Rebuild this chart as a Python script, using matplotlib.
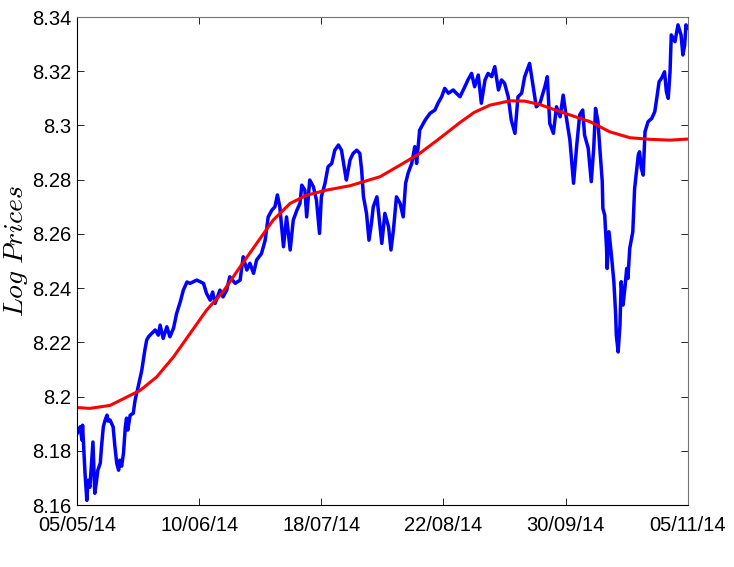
import matplotlib
matplotlib.use('Agg')
import matplotlib.pyplot as plt

# Position along the sample, 0..100 (% of the window), and log prices.
blue_t = [0.0, 0.5, 0.8, 0.9, 1.3, 1.6, 1.8, 2.1, 2.6, 2.7, 2.9, 3.2, 3.4, 3.8, 4.0,
          4.3, 4.6, 4.9, 5.1, 5.4, 5.9, 6.2, 6.5, 6.8, 7.0, 7.3, 7.6, 7.9, 8.1, 8.3,
          8.7, 9.2, 9.5, 10.0, 10.6, 11.1, 11.4, 11.7, 12.2, 12.8, 13.3, 13.6, 14.1,
          14.7, 15.2, 15.8, 16.3, 16.9, 17.4, 18.0, 18.5, 19.6, 20.7, 21.2, 21.8,
          22.2, 22.6, 23.4, 23.9, 24.5, 25.0, 25.9, 26.7, 27.2, 27.8, 28.3, 28.9,
          29.4, 30.2, 30.8, 31.3, 31.9, 32.4, 32.8, 33.2, 33.8, 34.3, 34.9, 35.4,
          36.0, 36.5, 36.8, 37.3, 37.6, 38.1, 38.7, 39.2, 39.7, 40.0, 40.6, 41.1,
          41.7, 42.2, 42.8, 43.3, 43.9, 44.1, 44.7, 45.2, 45.8, 46.3, 46.6, 46.9,
          47.4, 47.8, 48.2, 48.5, 49.1, 49.6, 49.9, 50.4, 51.0, 51.4, 51.8, 52.3,
          52.9, 53.4, 53.8, 54.2, 54.8, 55.3, 55.6, 56.1, 57.0, 57.8, 58.6, 59.1,
          59.7, 60.2, 60.8, 61.6, 62.1, 62.7, 63.5, 64.0, 64.6, 65.1, 65.7, 66.2,
          66.8, 67.3, 67.9, 68.4, 69.0, 69.5, 70.0, 70.6, 71.1, 71.7, 72.2, 72.8,
          73.3, 74.1, 74.7, 75.2, 75.8, 76.6, 77.0, 77.4, 78.0, 78.5, 79.1, 79.6,
          80.1, 80.7, 81.3, 81.8, 82.3, 82.8, 83.1, 83.7, 84.2, 84.6, 84.9, 85.3,
          85.6, 86.0, 86.1, 86.4, 86.7, 86.8, 87.1, 87.5, 87.9, 88.2, 88.3, 88.6,
          88.9, 89.1, 89.4, 89.7, 90.0, 90.2, 90.5, 91.0, 91.3, 91.6, 91.9, 92.1,
          92.4, 92.7, 93.0, 93.5, 94.1, 94.6, 95.0, 95.3, 95.7, 96.2, 96.5, 96.8,
          97.1, 97.3, 97.9, 98.4, 98.9, 99.2, 99.5, 99.7, 100.0]
blue_v = [8.1864, 8.1889, 8.1840, 8.1895, 8.1718, 8.1618, 8.1692, 8.1666, 8.1833,
          8.1766, 8.1644, 8.1692, 8.1729, 8.1755, 8.1815, 8.1889, 8.1914, 8.1932,
          8.1910, 8.1914, 8.1889, 8.1815, 8.1754, 8.1729, 8.1766, 8.1744, 8.1792,
          8.1889, 8.1921, 8.1877, 8.1932, 8.1939, 8.1987, 8.2036, 8.2098, 8.2172,
          8.2209, 8.2221, 8.2233, 8.2246, 8.2227, 8.2264, 8.2215, 8.2258, 8.2221,
          8.2253, 8.2307, 8.2350, 8.2393, 8.2423, 8.2418, 8.2430, 8.2418, 8.2381,
          8.2356, 8.2386, 8.2344, 8.2393, 8.2368, 8.2393, 8.2442, 8.2418, 8.2430,
          8.2516, 8.2467, 8.2492, 8.2455, 8.2504, 8.2528, 8.2577, 8.2663, 8.2688,
          8.2700, 8.2744, 8.2700, 8.2553, 8.2663, 8.2541, 8.2651, 8.2688, 8.2713,
          8.2780, 8.2762, 8.2663, 8.2799, 8.2774, 8.2725, 8.2602, 8.2737, 8.2787,
          8.2848, 8.2860, 8.2909, 8.2928, 8.2909, 8.2824, 8.2799, 8.2873, 8.2897,
          8.2909, 8.2897, 8.2836, 8.2737, 8.2676, 8.2577, 8.2639, 8.2700, 8.2737,
          8.2627, 8.2565, 8.2676, 8.2627, 8.2541, 8.2614, 8.2737, 8.2713, 8.2663,
          8.2787, 8.2824, 8.2860, 8.2922, 8.2860, 8.2983, 8.3020, 8.3045, 8.3057,
          8.3082, 8.3106, 8.3137, 8.3119, 8.3131, 8.3119, 8.3106, 8.3143, 8.3168,
          8.3192, 8.3143, 8.3186, 8.3082, 8.3168, 8.3192, 8.3180, 8.3217, 8.3131,
          8.3168, 8.3156, 8.3106, 8.3020, 8.2971, 8.3106, 8.3119, 8.3180, 8.3229,
          8.3143, 8.3069, 8.3082, 8.3143, 8.3180, 8.3008, 8.2971, 8.3069, 8.3032,
          8.3112, 8.3032, 8.2946, 8.2787, 8.2922, 8.3039, 8.3057, 8.2965, 8.2916,
          8.2793, 8.2916, 8.3063, 8.3014, 8.2916, 8.2793, 8.2694, 8.2670, 8.2547,
          8.2473, 8.2608, 8.2522, 8.2424, 8.2301, 8.2227, 8.2165, 8.2264, 8.2424,
          8.2338, 8.2399, 8.2473, 8.2436, 8.2547, 8.2608, 8.2768, 8.2829, 8.2891,
          8.2903, 8.2842, 8.2817, 8.2977, 8.3014, 8.3026, 8.3051, 8.3112, 8.3161,
          8.3174, 8.3198, 8.3125, 8.3100, 8.3198, 8.3334, 8.3309, 8.3371, 8.3334,
          8.3260, 8.3297, 8.3371, 8.3360]

# Smooth trend (red curve)
red_t = [0.0, 2.1, 5.4, 8.7, 10.3, 13.0, 15.8, 18.5, 21.2, 23.9, 26.7, 29.4, 32.1,
         34.9, 37.6, 40.9, 44.7, 49.6, 52.9, 56.1, 59.4, 62.7, 65.0, 67.6, 70.9,
         73.3, 75.8, 79.1, 84.0, 87.2, 90.5, 93.8, 97.1, 100.0]
red_v = [8.1960, 8.1957, 8.1968, 8.2005, 8.2023, 8.2072, 8.2147, 8.2233, 8.2319,
         8.2387, 8.2479, 8.2565, 8.2651, 8.2713, 8.2743, 8.2762, 8.2778, 8.2811,
         8.2854, 8.2897, 8.2953, 8.3011, 8.3048, 8.3075, 8.3091, 8.3090, 8.3077,
         8.3051, 8.3014, 8.2977, 8.2955, 8.2949, 8.2946, 8.2950]

x_ticks = [0, 20, 40, 60, 80, 100]
x_labels = ['05/05/14', '10/06/14', '18/07/14', '22/08/14', '30/09/14', '05/11/14']
y_ticks = [8.16, 8.18, 8.20, 8.22, 8.24, 8.26, 8.28, 8.30, 8.32, 8.34]
y_labels = ['8.16', '8.18', '8.2', '8.22', '8.24', '8.26', '8.28', '8.3', '8.32', '8.34']

plt.rcParams['font.family'] = ['Liberation Sans', 'DejaVu Sans']
plt.rcParams['mathtext.fontset'] = 'cm'

fig = plt.figure(figsize=(7.34, 5.67), dpi=100)
ax = fig.add_axes([0.105, 0.109, 0.832, 0.861])

ax.plot(blue_t, blue_v, color='#0000ff', linewidth=2.5)
ax.plot(red_t, red_v, color='#ff0000', linewidth=2.2)

ax.set_xlim(0, 100)
ax.set_ylim(8.16, 8.34)
ax.set_xticks(x_ticks)
ax.set_xticklabels(x_labels)
ax.set_yticks(y_ticks)
ax.set_yticklabels(y_labels)
ax.tick_params(direction='in', length=5, width=0.6, labelsize=14.5,
               top=True, right=True)
ax.tick_params(axis='x', pad=8)
ax.tick_params(axis='y', pad=4)
for side in ['top', 'right']:
    ax.spines[side].set_color('0.45')
for side in ax.spines:
    ax.spines[side].set_linewidth(0.8)

ax.set_ylabel(r'$Log\ Prices$', fontsize=20)
ax.yaxis.set_label_coords(-0.077, 0.52)

fig.savefig('out.png', dpi=100)
